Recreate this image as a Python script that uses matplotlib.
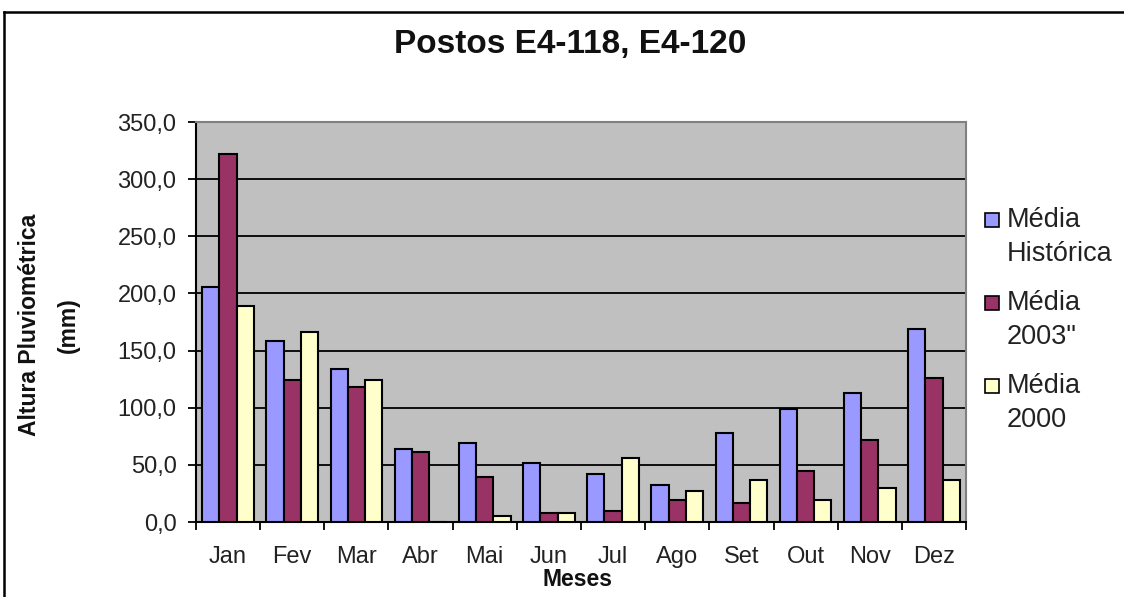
import numpy as np
import matplotlib.pyplot as plt
from matplotlib.lines import Line2D
from matplotlib.patches import Rectangle
from matplotlib.ticker import FuncFormatter

plt.rcParams['font.family'] = ['Liberation Sans', 'DejaVu Sans']

meses = ['Jan', 'Fev', 'Mar', 'Abr', 'Mai', 'Jun', 'Jul', 'Ago', 'Set', 'Out', 'Nov', 'Dez']
media_historica = [206, 158, 134, 64, 69, 52, 42, 32, 78, 99, 113, 169]
media_2003 = [322, 124, 118, 61, 39, 8, 10, 19, 17, 45, 72, 126]
media_2000 = [189, 166, 124, 0, 5, 8, 56, 27, 37, 19, 30, 37]

series = [('Média\nHistórica', media_historica, '#9999FF'),
          ('Média\n2003"', media_2003, '#993366'),
          ('Média\n2000', media_2000, '#FFFFCC')]

W, H = 1124, 597
fig = plt.figure(figsize=(W / 100, H / 100), dpi=100)
ax = fig.add_axes([196 / W, 1 - 522 / H, (966 - 196) / W, (522 - 122) / H])
ax.set_facecolor('#C0C0C0')

x = np.arange(len(meses))
bw = 0.268
for k, (nome, vals, cor) in enumerate(series):
    ax.bar(x + (k - 1) * bw, vals, width=bw, color=cor, edgecolor='black', linewidth=1.5, zorder=3)

ax.set_xlim(-0.5, len(meses) - 0.5)
ax.set_ylim(0, 350)
ax.set_yticks(np.arange(0, 351, 50))
ax.yaxis.set_major_formatter(FuncFormatter(lambda v, p: f'{v:.1f}'.replace('.', ',')))
ax.grid(axis='y', color='black', linewidth=1.3, zorder=1)

ax.set_xticks(x)
ax.set_xticklabels(meses)
ax.set_xticks(np.arange(-0.5, len(meses), 1), minor=True)
ax.tick_params(axis='x', which='major', length=0, pad=17, labelsize=17)
ax.tick_params(axis='x', which='minor', length=6, width=1.3, direction='out')
ax.tick_params(axis='y', length=6, width=1.3, pad=8, labelsize=17)
ax.tick_params(axis='both', labelcolor='#222222', color='black')

for s in ['top', 'right']:
    ax.spines[s].set_color('#808080')
    ax.spines[s].set_linewidth(1.5)
for s in ['left', 'bottom']:
    ax.spines[s].set_color('black')
    ax.spines[s].set_linewidth(1.5)

fig.text(570 / W, 1 - 45 / H, 'Postos E4-118, E4-120', ha='center', va='center',
         fontsize=24, fontweight='bold', color='#111111')
fig.text(30 / W, 1 - 325 / H, 'Altura Pluviométrica', rotation=90, ha='center', va='center',
         fontsize=16.5, fontweight='bold', color='#111111')
fig.text(68 / W, 1 - 325 / H, '(mm)', rotation=90, ha='center', va='center',
         fontsize=16.5, fontweight='bold', color='#111111')
fig.text(578 / W, 1 - 580 / H, 'Meses', ha='center', va='center',
         fontsize=16.5, fontweight='bold', color='#111111')

# legenda manual
for k, (nome, vals, cor) in enumerate(series):
    yc = 220 + k * 83
    fig.patches.append(Rectangle((985 / W, 1 - (yc + 7) / H), 14 / W, 14 / H,
                                 transform=fig.transFigure, facecolor=cor,
                                 edgecolor='black', linewidth=1.2))
    fig.text(1007 / W, 1 - (yc - 13) / H, nome, ha='left', va='top',
             fontsize=19.5, color='#222222', linespacing=1.4)

# moldura do gráfico
fig.lines.append(Line2D([4 / W, 1], [1 - 12 / H, 1 - 12 / H], transform=fig.transFigure,
                        color='black', linewidth=1.8))
fig.lines.append(Line2D([4 / W, 4 / W], [0, 1 - 12 / H], transform=fig.transFigure,
                        color='black', linewidth=1.8))

fig.savefig('out.png', dpi=100)
